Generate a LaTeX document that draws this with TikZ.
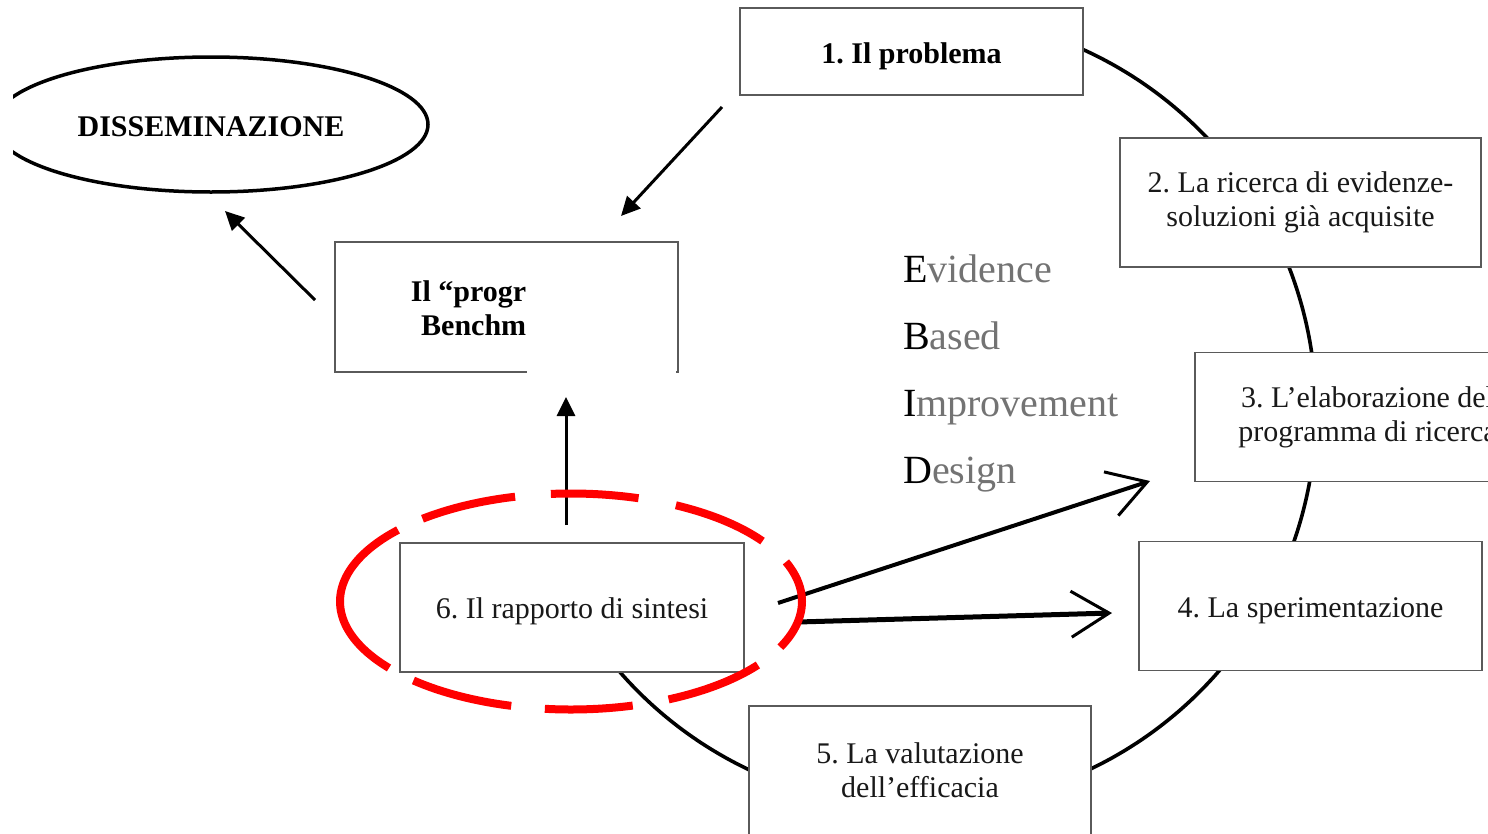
\documentclass[tikz,border=0pt]{standalone}
\usepackage{fontspec}
\setmainfont{Liberation Serif}
\frenchspacing
\usetikzlibrary{shapes.geometric, arrows.meta}
\definecolor{boxgray}{HTML}{5A5A5A}
\definecolor{textgray}{HTML}{737373}
\definecolor{dashred}{HTML}{FF0000}

\begin{document}
\begin{tikzpicture}[x=1pt, y=-1pt]
  \tikzset{
    box_node/.style={rectangle, draw=boxgray, line width=1.6pt, fill=white, text=black!90, minimum width=343pt, minimum height=129pt, align=center, inner sep=0pt, font=\fontsize{30}{34}\selectfont},
    bold_node/.style={box_node, text=black, font=\fontsize{30}{34}\selectfont\bfseries},
    one_line/.style={text height=22pt, text depth=0pt},
    ebid_node/.style={anchor=base west, inner sep=0pt, text=textgray, font=\fontsize{40}{48}\selectfont},
    arrow_line/.style={line width=3pt, -{Triangle[length=19pt, width=18pt]}},
    open_arrow/.style={line width=4pt, -{Straight Barb[length=38pt, width=46pt, line width=3pt]}},
    red_dash/.style={draw=dashred, line width=8pt}
  }

  \useasboundingbox (0,0) rectangle (1488,833);
  \clip (0,0) rectangle (1488,833);

  % Arco del ciclo (detrás de las cajas)
  \draw[line width=3.6pt] plot[domain=-70:142, samples=90, smooth] ({919+397*cos(\x)}, {411+397*sin(\x)});

  % Cajas del ciclo
  \node[bold_node, one_line, text height=24pt, minimum height=87pt] (p1) at (911.5,51.5) {1. Il problema};
  \node[box_node, minimum width=361pt] (p2) at (1300.5,202.5) {2. La ricerca di evidenze-\\soluzioni già acquisite};
  \node[box_node, minimum width=345pt] (p3) at (1367.5,417) {3. L’elaborazione del\\programma di ricerca};
  \node[box_node, one_line] (p4) at (1310.5,606) {4. La sperimentazione};
  \node[box_node, minimum width=342pt] (p5) at (920,770.5) {5. La valutazione\\dell’efficacia};
  \node[box_node, one_line, minimum width=344pt] (p6) at (572,607.5) {6. Il rapporto di sintesi};

  % Caja del programma (tapada en parte)
  \node[box_node, minimum height=130pt] (bench) at (506.5,307) {};
  \fill[white] (527,262) rectangle (676,380);
  \node[bold_node, draw=none, fill=none, minimum width=0pt, minimum height=0pt, align=right, anchor=east] (bench_text) at (527,308.5) {Il “progr\\Benchm};

  % Elipse de diseminación
  \begin{scope}
    \clip (13,0) rectangle (450,230);
    \node[ellipse, draw, line width=3.5pt, minimum width=434pt, minimum height=135pt, inner sep=0pt, text height=23pt, text depth=0pt, font=\fontsize{30}{34}\selectfont\bfseries] (diss) at (211,124.5) {DISSEMINAZIONE};
  \end{scope}

  % Evidence Based Improvement Design
  \node[ebid_node] (ev) at (903,282) {\textcolor{black}{E}vidence};
  \node[ebid_node] (ba) at (903,349) {\textcolor{black}{B}ased};
  \node[ebid_node] (im) at (903,416) {\textcolor{black}{I}mprovement};
  \node[ebid_node] (de) at (903,483) {\textcolor{black}{D}esign};

  % Flechas
  \coordinate (f1_ini) at (722,107);
  \coordinate (f1_fin) at (621,216);
  \coordinate (f2_ini) at (315,300);
  \coordinate (f2_fin) at (225,211);
  \coordinate (f3_ini) at (566,525);
  \coordinate (f3_fin) at (566,397);
  \coordinate (f4_ini) at (778,603);
  \coordinate (f4_fin) at (1150,481);
  \coordinate (f5_ini) at (798,622);
  \coordinate (f5_fin) at (1112,613);
  \draw[arrow_line] (f1_ini) -- (f1_fin);
  \draw[arrow_line] (f2_ini) -- (f2_fin);
  \draw[arrow_line] (f3_ini) -- (f3_fin);
  \draw[open_arrow] (f4_ini) -- (f4_fin);
  \draw[open_arrow, line width=5pt] (f5_ini) -- (f5_fin);

  % Elipse roja discontinua
  \foreach \a/\b in {142/221.5, 105/133, 74.5/96.5, 36/65, -21.5/25, -63/-34, -95/-73, -130/-104}
    \draw[red_dash] plot[domain=\a:\b, samples=25, smooth] ({571+231*cos(\x)}, {601.5+108*sin(\x)});
\end{tikzpicture}
\end{document}
